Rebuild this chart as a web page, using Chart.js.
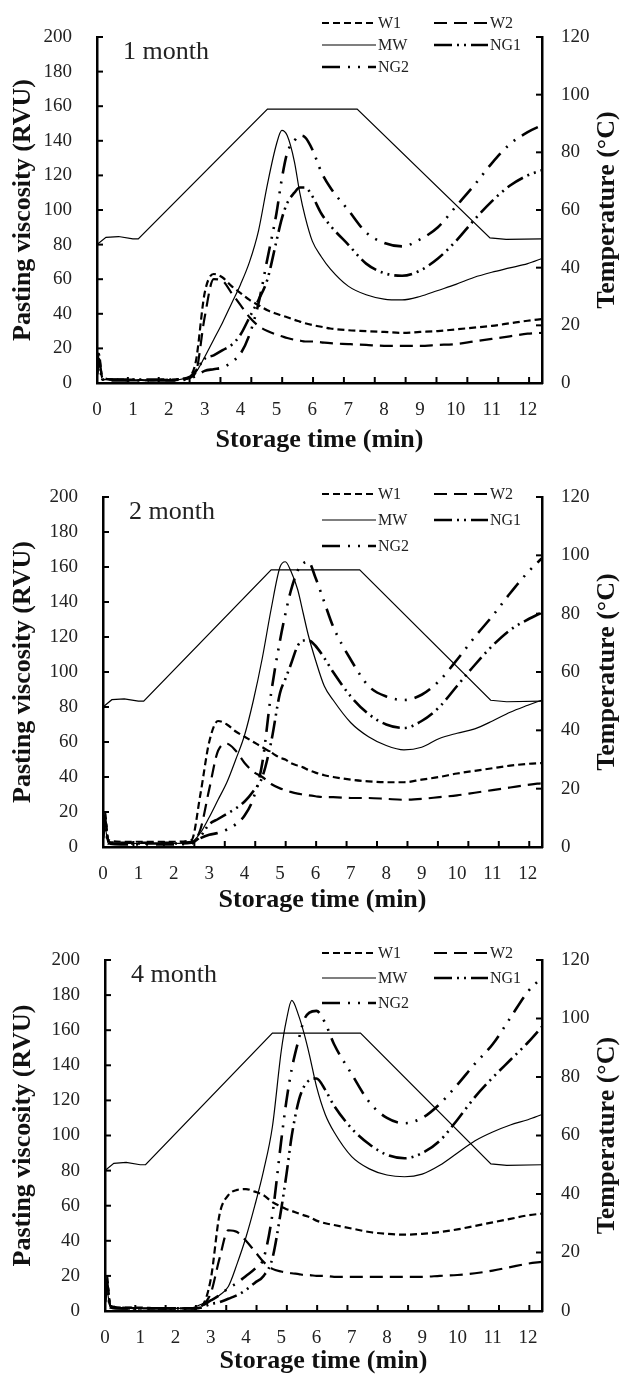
<!DOCTYPE html>
<html>
<head>
<meta charset="utf-8">
<title>Pasting viscosity profiles</title>
<script src="https://cdn.jsdelivr.net/npm/chart.js@4.4.0/dist/chart.umd.min.js"></script>
<style>
  html, body { margin: 0; padding: 0; background: #fff; }
  #wrap { position: relative; width: 622px; height: 1381px; }
  canvas { position: absolute; left: 0; display: block; }
</style>
</head>
<body>
<div id="wrap">
  <canvas id="c1" width="622" height="460" style="top:0px"></canvas>
  <canvas id="c2" width="622" height="460" style="top:460px"></canvas>
  <canvas id="c3" width="622" height="461" style="top:920px"></canvas>
</div>
<script>
// RVA pasting curves after 1, 2 and 4 months of storage
const SERIF = "'Liberation Serif', 'Times New Roman', serif";
Chart.defaults.font.family = SERIF;
Chart.defaults.color = '#222';

// sampling times (min) shared by all curves
const TIME = [0, 0.05, 0.15, 0.5, 1, 1.5, 2, 2.5, 2.75, 3, 3.25, 3.5, 3.75, 4, 4.25, 4.5, 4.75, 5,
  5.15, 5.3, 5.5, 5.65, 5.8, 6, 6.25, 6.5, 7, 7.5, 8, 8.5, 9, 9.5, 10, 10.5, 11, 11.5, 12, 12.4];

// temperature programme (right axis)
const TEMP_TIME = [0, 0.25, 0.6, 1.0, 1.15, 4.75, 7.25, 10.95, 11.4, 12.4];
const TEMP_C = [48, 50.5, 50.8, 50, 50, 95, 95, 50.3, 49.8, 50];

// 1 month
const W1_1M = [8, 17, 3, 2, 2, 1.5, 2, 3, 12, 52, 63, 61, 56, 52, 48, 45, 42, 40, 39, 38, 36.5, 35.5, 34.5, 33.5, 32.5, 31.5, 30.5, 30, 29.5, 29, 29.5, 30, 31, 32, 33, 34.5, 36, 37];
const W2_1M = [6, 15, 3, 2, 1.5, 1.5, 1.5, 2.5, 6, 38, 60, 59, 52, 45, 38, 33, 30, 28, 27, 26, 25, 24.5, 24, 24, 23.5, 23, 22.5, 22, 21.5, 21.5, 21.5, 22, 22.5, 24, 25.5, 27, 28.5, 29];
const MW_1M = [4, 12, 2, 2, 1.5, 1.5, 1.5, 3, 6, 15, 25, 35, 46, 57, 70, 88, 115, 138, 146, 143, 128, 110, 96, 82, 73, 66, 56, 51, 48.5, 48, 50, 53.5, 57, 61, 64, 66.5, 69, 72];
const NG1_1M = [5, 12, 2, 2, 2, 2, 2, 2.5, 7, 14, 16, 19, 22, 28, 38, 48, 60, 82, 95, 104, 110, 113, 113, 108, 98, 91, 80, 69, 63.5, 62, 65, 72, 82, 94, 105, 114, 120, 123];
const NG2_1M = [5, 14, 2, 1.5, 1.5, 1.5, 1.5, 2, 4, 7, 8, 9, 12, 17, 28, 46, 72, 98, 118, 133, 140, 143, 142, 135, 122, 113, 100, 87, 81, 79, 83, 90, 102, 114, 127, 138, 145, 149];

// 2 month
const W1_2M = [8, 20, 4, 3, 3, 3, 3, 4, 30, 60, 72, 70, 66, 63, 60, 57, 54, 51, 50, 48, 46.5, 45.5, 44, 42.5, 41, 40, 38.5, 37.5, 37, 37, 38.5, 40, 42, 43.5, 45, 46.5, 47.5, 48];
const W2_2M = [6, 18, 3, 2.5, 2.5, 2.5, 2.5, 3, 10, 33, 55, 59, 55, 48, 43, 40, 36, 33.5, 32.5, 31.5, 30.5, 30, 29.5, 29, 28.5, 28.5, 28, 28, 27.5, 27, 27.5, 28.5, 29.5, 31, 32.5, 34, 35.5, 36.5];
const MW_2M = [4, 12, 2, 2, 2, 2, 2, 3, 8, 17, 27, 37, 50, 64, 84, 108, 136, 160, 163, 158, 147, 134, 121, 107, 92, 84, 71, 63, 58, 55.5, 57, 62, 65, 67.5, 72, 77, 81, 84];
const NG1_2M = [5, 14, 2, 2, 2, 2, 2, 2.5, 6, 13, 16, 19, 22, 26, 32, 40, 60, 88, 96, 104, 115, 118, 118, 115, 108, 100, 86, 76, 70, 68, 72, 80, 92, 104, 115, 124, 130, 134];
const NG2_2M = [5, 16, 2, 1.5, 1.5, 1.5, 1.5, 2, 5, 7, 8, 10, 13, 18, 28, 48, 88, 118, 133, 146, 158, 162, 163, 154, 140, 126, 107, 92, 86, 84, 87, 95, 107, 120, 132, 145, 157, 165];

// 4 month
const W1_4M = [8, 20, 3, 2, 2, 1.5, 1.5, 1.5, 3, 18, 55, 66, 69, 69.5, 68, 66, 62, 59.5, 58, 57, 55.5, 54.5, 53.5, 51.5, 50, 49, 47, 45, 44, 43.5, 44, 45, 46.5, 48.5, 50.5, 52.5, 54.5, 55.5];
const W2_4M = [6, 18, 3, 2, 1.5, 1.5, 1.5, 1.5, 3, 10, 30, 46, 45, 40, 34, 28, 24, 22.5, 22, 21.5, 21, 20.5, 20.5, 20, 20, 19.5, 19.5, 19.5, 19.5, 19.5, 19.5, 20, 20.5, 21.5, 23, 25, 27, 28];
const MW_4M = [4, 12, 2, 1.5, 1.5, 1.5, 1.5, 2, 4, 6, 9, 14, 27, 42, 60, 80, 105, 148, 166, 177, 168, 158, 146, 128, 112, 102, 88, 81, 77.5, 76.5, 78, 83, 90, 97, 102, 106, 109, 112];
const NG1_4M = [5, 14, 2, 1.5, 1.5, 1.5, 1.5, 1.5, 2, 4, 5, 7, 9, 12, 16, 20, 30, 58, 78, 100, 120, 128, 131.5, 132.5, 126, 117, 104, 95, 89, 87, 90, 97, 109, 122, 133, 143, 153, 162];
const NG2_4M = [5, 16, 2, 1.5, 1.5, 1.5, 1.5, 1, 3, 6, 9, 13, 16, 20, 24, 30, 55, 97, 120, 138, 155, 166, 170, 171, 164, 152, 135, 119, 110, 107, 110, 118, 129, 141, 152, 167, 182, 190];

const SERIES = ['W1', 'W2', 'MW', 'NG1', 'NG2'];
const X_TICKS = [0, 1, 2, 3, 4, 5, 6, 7, 8, 9, 10, 11, 12];
const Y_TICKS = [0, 20, 40, 60, 80, 100, 120, 140, 160, 180, 200];
const T_TICKS = [0, 20, 40, 60, 80, 100, 120];
const X_MARK_STEP = 0.86;   // spacing of the small tick marks along the time axis

const DASH = { W1: [7, 4], W2: [13, 7], MW: [], NG1: [18, 5, 2, 5, 2, 5], NG2: [18, 8, 2, 8, 2, 8] };
const WIDTH = { W1: 2.2, W2: 2.2, MW: 1.2, NG1: 2.6, NG2: 2.6 };

const PANELS = [
  { id: 'c1', label: '1 month', top: 37, bottom: 383, left: 97, right: 542, height: 460, legendY: 23, legendStep: 22,
    values: [W1_1M, W2_1M, MW_1M, NG1_1M, NG2_1M] },
  { id: 'c2', label: '2 month', top: 37, bottom: 387, left: 103, right: 542, height: 460, legendY: 34, legendStep: 26,
    values: [W1_2M, W2_2M, MW_2M, NG1_2M, NG2_2M] },
  { id: 'c3', label: '4 month', top: 40, bottom: 391, left: 105, right: 542, height: 461, legendY: 33, legendStep: 25,
    values: [W1_4M, W2_4M, MW_4M, NG1_4M, NG2_4M] }
];

function line(ctx, x1, y1, x2, y2) {
  ctx.beginPath();
  ctx.moveTo(x1, y1);
  ctx.lineTo(x2, y2);
  ctx.stroke();
}

// inward tick marks, panel label, right-hand title and the legend
const decor = {
  id: 'decor',
  afterDraw(chart, args, opts) {
    const { ctx, chartArea: a, scales } = chart;
    ctx.save();
    ctx.strokeStyle = '#000';
    ctx.lineWidth = 2;
    Y_TICKS.forEach(v => {
      const y = scales.y.getPixelForValue(v);
      line(ctx, a.left, y, a.left + 6, y);
    });
    T_TICKS.forEach(v => {
      const y = scales.y2.getPixelForValue(v);
      line(ctx, a.right - 6, y, a.right, y);
    });
    for (let v = X_MARK_STEP; v < scales.x.max; v += X_MARK_STEP) {
      const x = scales.x.getPixelForValue(v);
      line(ctx, x, a.bottom - 6, x, a.bottom);
    }

    ctx.fillStyle = '#222';
    ctx.textBaseline = 'middle';
    ctx.textAlign = 'left';
    ctx.font = '26px ' + SERIF;
    ctx.fillText(opts.label, a.left + 26, a.top + 15);

    // legend, two columns
    ctx.font = '16px ' + SERIF;
    chart.data.datasets.forEach(ds => {
      const i = SERIES.indexOf(ds.label);
      if (i < 0) return;
      const x0 = i % 2 === 0 ? 322 : 434;
      const y = opts.legendY + Math.floor(i / 2) * opts.legendStep;
      ctx.setLineDash(ds.borderDash);
      ctx.lineWidth = ds.borderWidth;
      line(ctx, x0, y, x0 + 54, y);
      ctx.setLineDash([]);
      ctx.fillText(ds.label, x0 + 56, y + 1);
    });

    ctx.translate(607, (a.top + a.bottom) / 2);
    ctx.rotate(-Math.PI / 2);
    ctx.textAlign = 'center';
    ctx.font = 'bold 26px ' + SERIF;
    ctx.fillStyle = '#111';
    ctx.fillText('Temperature (\u00B0C)', 0, 0);
    ctx.restore();
  }
};

PANELS.forEach(p => {
  const datasets = SERIES.map((name, k) => ({
    label: name,
    data: TIME.map((t, i) => ({ x: t, y: p.values[k][i] })),
    yAxisID: 'y',
    borderColor: '#000',
    borderWidth: WIDTH[name],
    borderDash: DASH[name],
    cubicInterpolationMode: 'monotone',
    pointRadius: 0,
    fill: false
  }));
  datasets.unshift({
    label: 'Temperature',
    data: TEMP_TIME.map((t, i) => ({ x: t, y: TEMP_C[i] })),
    yAxisID: 'y2',
    borderColor: '#000',
    borderWidth: 1.2,
    tension: 0,
    pointRadius: 0,
    fill: false
  });

  new Chart(document.getElementById(p.id), {
    type: 'line',
    data: { datasets },
    options: {
      responsive: false,
      animation: false,
      layout: { padding: { top: p.top, left: 0, right: 0, bottom: 0 } },
      plugins: {
        legend: { display: false },
        tooltip: { enabled: false },
        decor: { label: p.label, legendY: p.legendY, legendStep: p.legendStep }
      },
      scales: {
        x: {
          type: 'linear',
          position: 'bottom',
          min: 0,
          max: 12.4,
          afterBuildTicks: s => { s.ticks = X_TICKS.map(v => ({ value: v })); },
          afterFit: s => { s.height = p.height - p.bottom; },
          grid: { display: false, drawTicks: false },
          border: { color: '#000', width: 2.5 },
          ticks: { autoSkip: false, maxRotation: 0, padding: 16, font: { size: 19 } },
          title: { display: true, text: 'Storage time (min)', color: '#111',
                   font: { size: 26, weight: 'bold' }, padding: { top: 0, bottom: 4 } }
        },
        y: {
          position: 'left',
          min: 0,
          max: 200,
          afterBuildTicks: s => { s.ticks = Y_TICKS.map(v => ({ value: v })); },
          afterFit: s => { s.width = p.left; },
          grid: { display: false, drawTicks: false },
          border: { color: '#000', width: 2.5 },
          ticks: { padding: 25, font: { size: 19 } },
          title: { display: true, text: 'Pasting viscosity (RVU)', color: '#111',
                   font: { size: 26, weight: 'bold' }, padding: { top: 8, bottom: 0 } }
        },
        y2: {
          position: 'right',
          min: 0,
          max: 120,
          afterBuildTicks: s => { s.ticks = T_TICKS.map(v => ({ value: v })); },
          afterFit: s => { s.width = 622 - p.right; },
          grid: { display: false, drawTicks: false },
          border: { color: '#000', width: 2.5 },
          ticks: { padding: 19, font: { size: 19 } }
        }
      }
    },
    plugins: [decor]
  });
});
</script>
</body>
</html>
